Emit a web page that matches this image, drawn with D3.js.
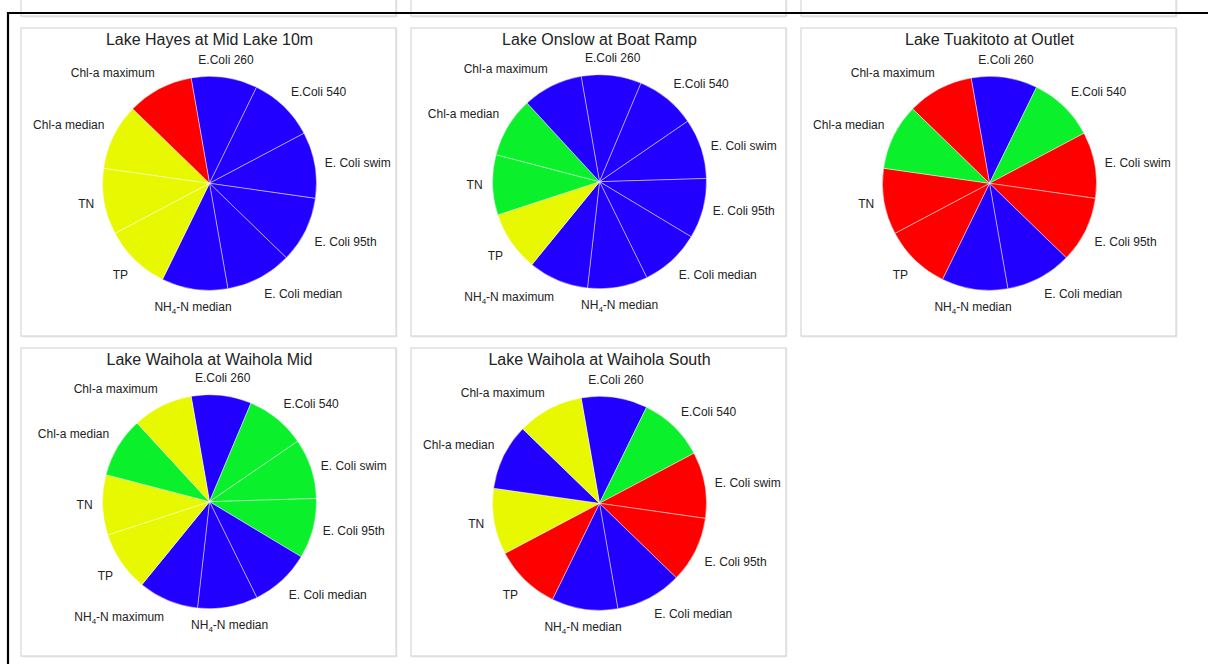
<!DOCTYPE html>
<html>
<head>
<meta charset="utf-8">
<script src="https://cdn.jsdelivr.net/npm/d3@7"></script>
<style>
  body { margin: 0; background: #fff; }
  text { font-family: "Liberation Sans", Arial, sans-serif; fill: #222; }
</style>
</head>
<body>
<svg id="pies" width="1208" height="664"></svg>
<script>
// categories, clockwise from the top
const categories = ['E.Coli 260', 'E.Coli 540', 'E. Coli swim', 'E. Coli 95th', 'E. Coli median',
    'NH4-N median', 'NH4-N maximum', 'TP', 'TN', 'Chl-a median', 'Chl-a maximum'];

const lakes = ['Lake Hayes at Mid Lake 10m', 'Lake Onslow at Boat Ramp', 'Lake Tuakitoto at Outlet',
    'Lake Waihola at Waihola Mid', 'Lake Waihola at Waihola South'];

// grade per category (A blue, B green, C yellow, D red), null = not measured
const hayes      = ['A', 'A', 'A', 'A', 'A', 'A', null, 'C', 'C', 'C', 'D'];
const onslow     = ['A', 'A', 'A', 'A', 'A', 'A', 'A',  'C', 'B', 'B', 'A'];
const tuakitoto  = ['A', 'B', 'D', 'D', 'A', 'A', null, 'D', 'D', 'B', 'D'];
const waiholaMid = ['A', 'B', 'B', 'B', 'A', 'A', 'A',  'C', 'C', 'B', 'C'];
const waiholaSth = ['A', 'B', 'D', 'D', 'A', 'A', null, 'D', 'C', 'A', 'C'];
const grades = [hayes, onslow, tuakitoto, waiholaMid, waiholaSth];

const svg = d3.select('svg#pies');
const width = +svg.attr('width');
const panelW = 375, panelH = 308;
const radius = 107;
const labelR = 117;
const startAngle = -9.9 * Math.PI / 180;

const colour = d3.scaleOrdinal()
    .domain(['A', 'B', 'C', 'D'])
    .range(['#2200ff', '#0af02a', '#e8f800', '#ff0000']);

const colX = d3.scaleLinear().domain([0, 1]).range([21, 411]);
const rowY = d3.scaleLinear().domain([0, 1]).range([28, 348]);

// outer frame
svg.append('line').attr('x1', 8).attr('x2', width).attr('y1', 13).attr('y2', 13)
    .attr('stroke', '#000').attr('stroke-width', 2.2);
svg.append('line').attr('x1', 8).attr('x2', 8).attr('y1', 12).attr('y2', 664)
    .attr('stroke', '#000').attr('stroke-width', 2.2);

const drawFrame = (g) => {
    g.append('rect').attr('x', 0.8).attr('y', 0.8).attr('width', panelW).attr('height', panelH)
        .attr('fill', 'none').attr('stroke', '#e6e6e6').attr('stroke-width', 1);
    g.append('rect').attr('x', 0).attr('y', 0).attr('width', panelW).attr('height', panelH)
        .attr('fill', '#fff').attr('stroke', '#cfcfcf').attr('stroke-width', 1);
};

// bottoms of the row above, cut off by the frame
[0, 1, 2].forEach(c => {
    const g = svg.insert('g', ':first-child')
        .attr('transform', `translate(${colX(c)}, ${rowY(-1)})`);
    drawFrame(g);
});

const pie = d3.pie().sort(null).value(1)
    .startAngle(startAngle).endAngle(startAngle + 2 * Math.PI);
const arc = d3.arc().innerRadius(0).outerRadius(radius);

const addLabel = (g, d, cx, cy) => {
    const a = (d.startAngle + d.endAngle) / 2;
    const s = Math.sin(a), c = Math.cos(a);
    const anchor = Math.abs(s) < 0.3 ? 'middle' : (s > 0 ? 'start' : 'end');
    const dy = Math.abs(c) < 0.37 ? 0 : (c > 0 ? -7.5 : 7.5);
    const t = g.append('text')
        .attr('x', cx + labelR * s)
        .attr('y', cy - labelR * c + dy)
        .attr('dy', '0.35em')
        .attr('text-anchor', anchor)
        .attr('font-size', 12);
    const name = d.data.name;
    if (name.startsWith('NH4')) {
        t.append('tspan').text('NH');
        t.append('tspan').attr('font-size', 8).attr('dy', 3).text('4');
        t.append('tspan').attr('dy', -3).text(name.slice(3));
    } else {
        t.text(name);
    }
};

lakes.forEach((lake, i) => {
    const col = i % 3, row = Math.floor(i / 3);
    const g = svg.append('g')
        .attr('transform', `translate(${colX(col)}, ${rowY(row)})`);
    drawFrame(g);

    const slices = categories
        .map((name, k) => ({name, grade: grades[i][k]}))
        .filter(d => d.grade !== null);
    const cx = 188.5;
    const cy = slices.length === 10 ? 155.3 : 153.7;

    g.append('text')
        .attr('x', cx).attr('y', 11)
        .attr('dy', '0.35em')
        .attr('text-anchor', 'middle')
        .attr('font-size', 16)
        .text(lake);

    const arcs = pie(slices);
    g.append('g').attr('transform', `translate(${cx}, ${cy})`)
        .selectAll('path').data(arcs)
        .enter().append('path')
        .attr('d', arc)
        .attr('fill', d => colour(d.data.grade))
        .attr('stroke', 'rgba(255,255,255,0.55)')
        .attr('stroke-width', 0.8);

    arcs.forEach(d => addLabel(g, d, cx, cy));
});
</script>
</body>
</html>
